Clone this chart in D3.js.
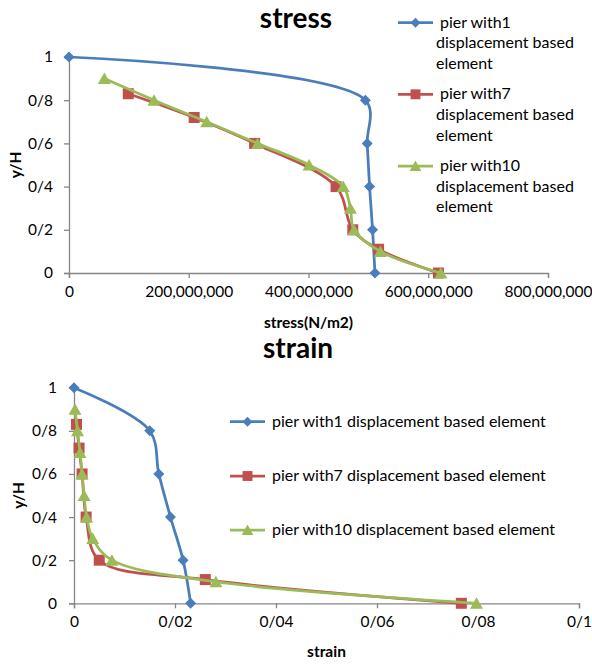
<!DOCTYPE html>
<html>
<head>
<meta charset="utf-8">
<script src="https://cdn.jsdelivr.net/npm/d3@7"></script>
<style>
  html, body { margin: 0; padding: 0; background: #fff; }
  svg { display: block; font-family: Lato, "Open Sans", sans-serif; }
</style>
</head>
<body>
<svg id="chart" width="592" height="664"></svg>
<script>
// Stress profile along pier height
const seriesNames = ["pier with1 displacement based element",
                     "pier with7 displacement based element",
                     "pier with10 displacement based element"];
const seriesColors = ["#4A7EBB", "#C0504D", "#9BBB59"];
const seriesMarkers = ["diamond", "square", "triangle"];

const stressY1 = [1, 0.8, 0.6, 0.4, 0.2, 0];
const stressX1 = [0, 495e6, 498e6, 502e6, 507e6, 511e6];
const stressY7 = [0.83, 0.72, 0.6, 0.4, 0.2, 0.11, 0];
const stressX7 = [99e6, 209e6, 310e6, 446e6, 474e6, 517e6, 617e6];
const stressY10 = [0.9, 0.8, 0.7, 0.6, 0.5, 0.4, 0.3, 0.2, 0.1, 0];
const stressX10 = [59e6, 142e6, 230e6, 315e6, 401e6, 458e6, 470e6, 476e6, 520e6, 621e6];

const stressXTicks = [0, 200e6, 400e6, 600e6, 800e6];
const stressXTickLabels = ["0", "200,000,000", "400,000,000", "600,000,000", "800,000,000"];

// Strain profile along pier height
const strainY1 = [1, 0.8, 0.6, 0.4, 0.2, 0];
const strainX1 = [0, 0.0150, 0.0168, 0.0191, 0.0216, 0.0231];
const strainY7 = [0.83, 0.72, 0.6, 0.4, 0.2, 0.11, 0];
const strainX7 = [0.0005, 0.0010, 0.0016, 0.0024, 0.0050, 0.0260, 0.0767];
const strainY10 = [0.9, 0.8, 0.7, 0.6, 0.5, 0.4, 0.3, 0.2, 0.1, 0];
const strainX10 = [0.0002, 0.0007, 0.0012, 0.0016, 0.0020, 0.0025, 0.0037, 0.0075, 0.0281, 0.0797];

const strainXTicks = [0, 0.02, 0.04, 0.06, 0.08, 0.1];
const strainXTickLabels = ["0", "0/02", "0/04", "0/06", "0/08", "0/1"];

const yTicks = [0, 0.2, 0.4, 0.6, 0.8, 1];
const yTickLabels = ["0", "0/2", "0/4", "0/6", "0/8", "1"];

const svg = d3.select("#chart");
const AXIS = "#868686";
const TEXT = "#000";

function markerPath(type, s = 1) {
  if (type === "diamond") return `M0,${-5.5 * s}L${5.5 * s},0L0,${5.5 * s}L${-5.5 * s},0Z`;
  if (type === "square") return `M${-5.5 * s},${-5.5 * s}H${5.5 * s}V${5.5 * s}H${-5.5 * s}Z`;
  return `M0,${-6 * s}L${6.5 * s},${5.5 * s}H${-6.5 * s}Z`;
}

function drawPanel(cfg) {
  const g = svg.append("g");
  const x = d3.scaleLinear().domain(cfg.xDomain).range([cfg.left, cfg.right]);
  const y = d3.scaleLinear().domain([0, 1]).range([cfg.bottom, cfg.top]);

  // title
  g.append("text").attr("x", cfg.titleX).attr("y", cfg.titleY)
    .attr("text-anchor", "middle").attr("font-weight", "bold")
    .attr("font-size", 28).attr("fill", TEXT).text(cfg.title);

  // axes
  const xAxis = d3.axisBottom(x).tickValues(cfg.xTicks)
    .tickFormat((d, i) => cfg.xTickLabels[i]).tickSizeOuter(0).tickSize(5).tickPadding(8);
  const gx = g.append("g").attr("transform", `translate(0,${cfg.bottom})`).call(xAxis);
  const yAxis = d3.axisLeft(y).tickValues(yTicks)
    .tickFormat((d, i) => yTickLabels[i]).tickSizeOuter(0).tickSize(5).tickPadding(cfg.yPad);
  const gy = g.append("g").attr("transform", `translate(${cfg.left},0)`).call(yAxis);
  [gx, gy].forEach(a => {
    a.select(".domain").attr("stroke", AXIS).attr("stroke-width", 1.3);
    a.selectAll(".tick line").attr("stroke", AXIS).attr("stroke-width", 1.3);
    a.selectAll(".tick text").attr("fill", TEXT).attr("font-size", 15.5)
      .attr("font-family", "Lato, 'Open Sans', sans-serif");
  });

  // axis titles
  g.append("text").attr("x", (cfg.left + cfg.right) / 2).attr("y", cfg.xTitleY)
    .attr("text-anchor", "middle").attr("font-weight", "bold").attr("font-size", 15.5)
    .attr("fill", TEXT).text(cfg.xTitle);
  g.append("text").attr("transform", `translate(${cfg.yTitleX},${(cfg.top + cfg.bottom) / 2}) rotate(-90)`)
    .attr("text-anchor", "middle").attr("font-weight", "bold").attr("font-size", 15.5)
    .attr("fill", TEXT).text("y/H");

  // series: smoothed lines with markers
  const line = d3.line().x(d => x(d[0])).y(d => y(d[1])).curve(d3.curveCatmullRom.alpha(0.5));
  cfg.series.forEach((s, k) => {
    const pts = s.xs.map((v, i) => [v, s.ys[i]]);
    g.append("path").datum(pts).attr("d", line).attr("fill", "none")
      .attr("stroke", seriesColors[k]).attr("stroke-width", 2.75).attr("stroke-linejoin", "round");
    g.selectAll(null).data(pts).join("path")
      .attr("transform", d => `translate(${x(d[0])},${y(d[1])})`)
      .attr("d", markerPath(seriesMarkers[k])).attr("fill", seriesColors[k]);
  });

  // legend
  cfg.legend.forEach((entry, k) => {
    const ly = entry.y;
    g.append("line").attr("x1", cfg.legendX).attr("x2", cfg.legendX + 35)
      .attr("y1", ly).attr("y2", ly).attr("stroke", seriesColors[k]).attr("stroke-width", 2.75);
    g.append("path").attr("transform", `translate(${cfg.legendX + 17.5},${ly})`)
      .attr("d", markerPath(seriesMarkers[k], 0.9)).attr("fill", seriesColors[k]);
    const t = g.append("text").attr("font-size", 16).attr("fill", TEXT);
    entry.lines.forEach((ln, j) => {
      t.append("tspan").attr("x", (j === 0 ? cfg.textX0 : cfg.textX)).attr("y", ly + 5 + j * 20.7).text(ln);
    });
  });
}

drawPanel({
  title: "stress", titleX: 296, titleY: 28,
  left: 69, right: 548, top: 57, bottom: 273,
  xDomain: [0, 800e6], xTicks: stressXTicks, xTickLabels: stressXTickLabels,
  yPad: 11, xTitle: "stress(N/m2)", xTitleY: 328, yTitleX: 21,
  series: [
    { xs: stressX1, ys: stressY1 },
    { xs: stressX7, ys: stressY7 },
    { xs: stressX10, ys: stressY10 }
  ],
  legendX: 398, textX0: 440, textX: 436,
  legend: [
    { y: 22.7, lines: ["pier with1", "displacement based", "element"] },
    { y: 94.3, lines: ["pier with7", "displacement based", "element"] },
    { y: 166, lines: ["pier with10", "displacement based", "element"] }
  ]
});

drawPanel({
  title: "strain", titleX: 298, titleY: 358,
  left: 74, right: 579, top: 387.7, bottom: 603.3,
  xDomain: [0, 0.1], xTicks: strainXTicks, xTickLabels: strainXTickLabels,
  yPad: 12, xTitle: "strain", xTitleY: 657, yTitleX: 24,
  series: [
    { xs: strainX1, ys: strainY1 },
    { xs: strainX7, ys: strainY7 },
    { xs: strainX10, ys: strainY10 }
  ],
  legendX: 230, textX0: 272, textX: 272,
  legend: [
    { y: 421.7, lines: [seriesNames[0]] },
    { y: 476, lines: [seriesNames[1]] },
    { y: 530, lines: [seriesNames[2]] }
  ]
});
</script>
</body>
</html>
